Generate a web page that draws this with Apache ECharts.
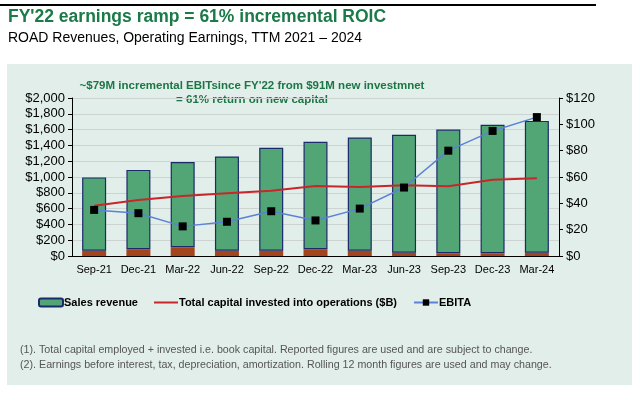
<!DOCTYPE html>
<html><head><meta charset="utf-8">
<script src="https://cdn.jsdelivr.net/npm/echarts@6/dist/echarts.min.js"></script>
<style>html,body{margin:0;padding:0;background:#fff}#c{width:640px;height:400px}</style>
</head><body><div id="c"></div>
<script>
const categories = ['Sep-21','Dec-21','Mar-22','Jun-22','Sep-22','Dec-22','Mar-23','Jun-23','Sep-23','Dec-23','Mar-24'];
const salesRevenue = [995, 1090, 1190, 1260, 1370, 1445, 1500, 1535, 1600, 1660, 1710];
const bottomSegment = [68, 85, 110, 68, 68, 85, 68, 42, 34, 34, 42];
const capitalInvested = [637, 709, 759, 793, 827, 886, 873, 895, 882, 966, 983];
const ebita = [35, 32.5, 22.5, 26, 34, 27, 36, 52, 80, 95, 105.5];
const leftTicks = {min: 0, max: 2000, interval: 200};
const rightTicks = {min: 0, max: 120, interval: 20};
const trendArrow = [['Dec-21', 1345], ['Mar-24', 2025]];

const greenPart = salesRevenue.map((v, i) => v - bottomSegment[i]);
const chart = echarts.init(document.getElementById('c'), null, {renderer: 'canvas'});
const F = 'Liberation Sans, Arial, sans-serif';
const FN = 'Liberation Sans Narrow, Liberation Sans, Arial, sans-serif';
chart.setOption({
  animation: false,
  textStyle: {fontFamily: F},
  title: {
    text: "FY'22 earnings ramp = 61% incremental ROIC",
    subtext: 'ROAD Revenues, Operating Earnings, TTM 2021 \u2013 2024',
    left: 8, top: 8, itemGap: 5, padding: 0,
    textStyle: {fontFamily: F, fontSize: 17.5, fontWeight: 'bold', color: '#1b7a47'},
    subtextStyle: {fontFamily: F, fontSize: 14, color: '#000'}
  },
  graphic: [
    {type: 'rect', z: -10, shape: {x: 7, y: 64, width: 625, height: 321}, style: {fill: '#e2eeea'}},
    {type: 'line', shape: {x1: 0, y1: 5, x2: 596, y2: 5}, style: {stroke: '#000', lineWidth: 2}},
    {type: 'text', x: 252, y: 79, style: {text: "~$79M incremental EBITsince FY'22 from $91M new investmnet\n= 61% return on new capital", fill: '#1c7646', font: 'bold 11.5px ' + F, align: 'center', lineHeight: 14}},
    {type: 'text', x: 20, y: 343, style: {text: '(1). Total capital employed + invested i.e. book capital. Reported figures are used and are subject to change.\n(2). Earnings before interest, tax, depreciation, amortization. Rolling 12 month figures are used and may change.', fill: '#555', font: '10.7px ' + FN, lineHeight: 15}}
  ],
  grid: {left: 72, right: 81, top: 98, bottom: 144},
  legend: {
    left: 38, top: 297, padding: 0, itemWidth: 24, itemHeight: 8, itemGap: 16,
    data: [
      {name: 'Sales revenue'},
      {name: 'Total capital invested into operations ($B)', icon: 'path://M0,0 L24,0 L24,2 L0,2 Z', itemStyle: {color: '#c8262a'}},
      {name: 'EBITA'}
    ],
    textStyle: {fontFamily: FN, fontSize: 11, fontWeight: 'bold', color: '#000', padding: [0, 0, 0, -4]}
  },
  xAxis: {
    type: 'category', data: categories,
    axisLine: {lineStyle: {color: '#000', width: 1}},
    axisTick: {show: false},
    axisLabel: {color: '#000', fontSize: 11, margin: 8, interval: 0}
  },
  yAxis: [
    {type: 'value', min: leftTicks.min, max: leftTicks.max, interval: leftTicks.interval,
     axisLine: {show: true, lineStyle: {color: '#000'}},
     axisTick: {show: true, length: 4, lineStyle: {color: '#000'}},
     axisLabel: {color: '#000', fontSize: 13, margin: 7, formatter: v => '$' + v.toLocaleString('en-US')},
     splitLine: {lineStyle: {color: '#cdd3d0', width: 1}}},
    {type: 'value', min: rightTicks.min, max: rightTicks.max, interval: rightTicks.interval,
     axisLine: {show: true, lineStyle: {color: '#000'}},
     axisTick: {show: true, length: 4, lineStyle: {color: '#000'}},
     axisLabel: {color: '#000', fontSize: 13, margin: 7, formatter: v => '$' + v},
     splitLine: {show: false}}
  ],
  series: [
    {name: 'Operating earnings', type: 'bar', stack: 'rev', data: bottomSegment, barWidth: 24,
     itemStyle: {color: '#a3441c'}},
    {name: 'Sales revenue', type: 'bar', stack: 'rev', data: greenPart, barWidth: 24,
     itemStyle: {color: '#52a675', borderColor: '#1b2a6a', borderWidth: 1.2}},
    {name: 'Total capital invested into operations ($B)', type: 'line', yAxisIndex: 0, data: capitalInvested,
     symbol: 'none', lineStyle: {color: '#c8262a', width: 2}, itemStyle: {color: '#c8262a'}, clip: false,
     markLine: {silent: true, symbol: ['none', 'arrow'], symbolSize: [0, 9], label: {show: false},
       lineStyle: {color: '#d3312c', type: [6, 5], width: 2},
       data: [[{coord: trendArrow[0]}, {coord: trendArrow[1]}]]}},
    {name: 'EBITA', type: 'line', yAxisIndex: 1, data: ebita,
     symbol: 'rect', symbolSize: 8, lineStyle: {color: '#5b82d8', width: 1.5}, itemStyle: {color: '#000'}}
  ]
});
</script></body></html>
